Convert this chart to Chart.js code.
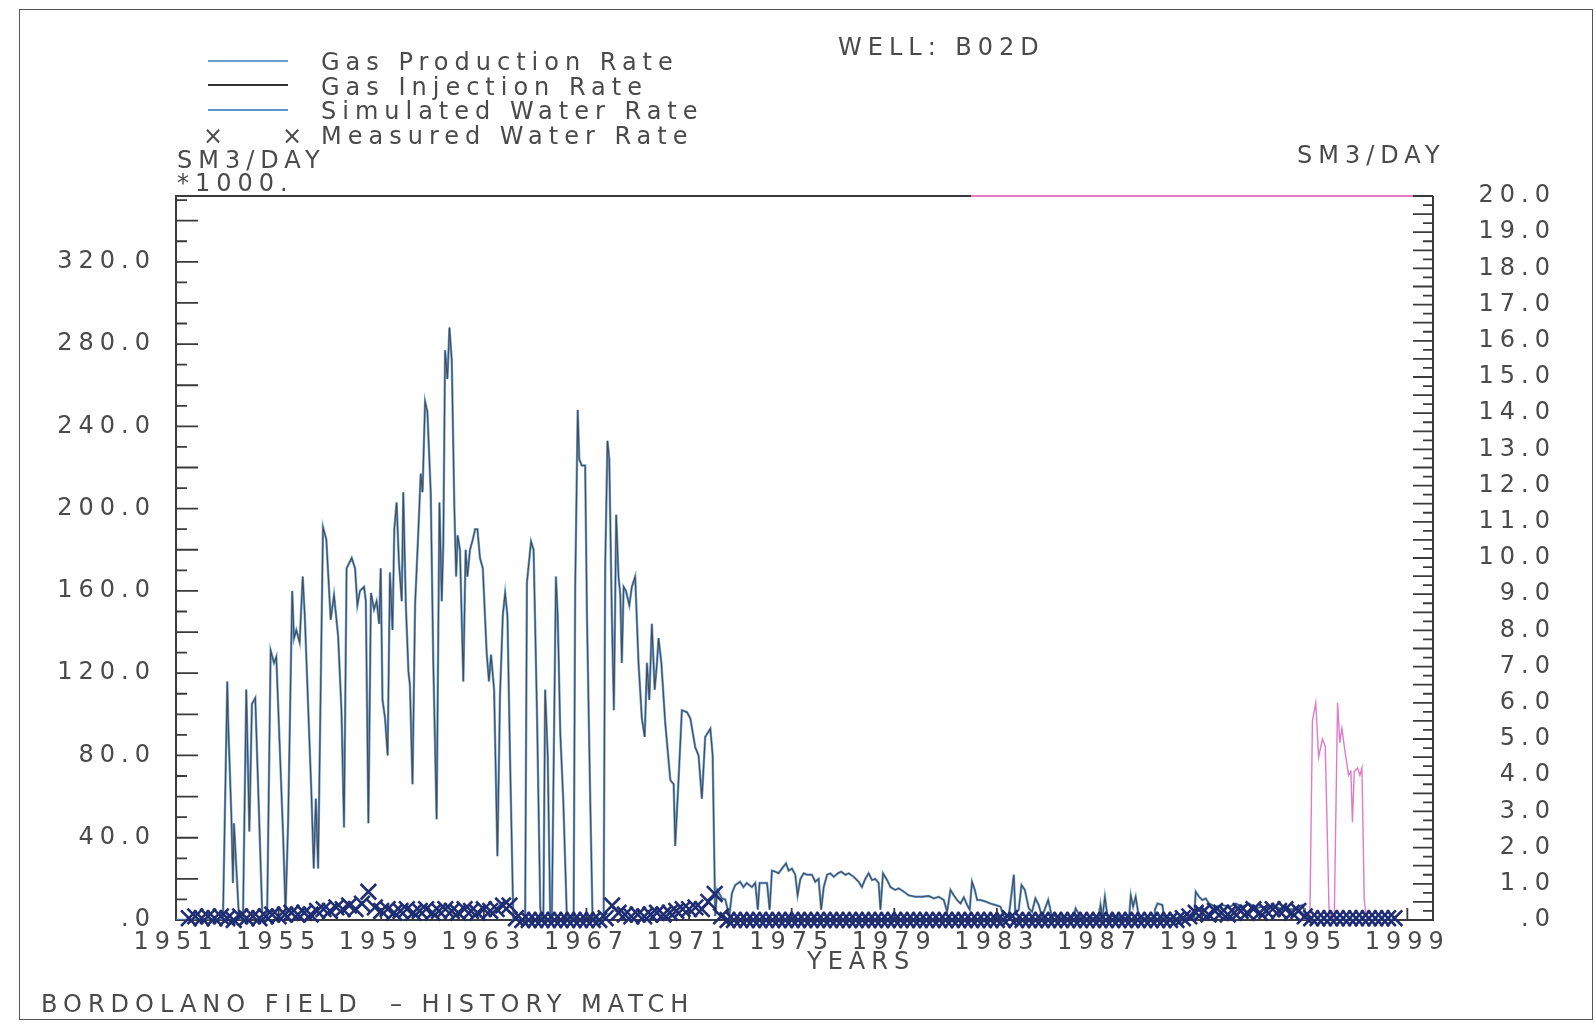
<!DOCTYPE html>
<html>
<head>
<meta charset="utf-8">
<script src="https://cdn.jsdelivr.net/npm/chart.js@4.4.1/dist/chart.umd.min.js"></script>
<style>
  html, body { margin: 0; padding: 0; background: #fff; overflow: hidden; }
  #page { position: relative; width: 1596px; height: 1028px; }
  #chart { position: absolute; left: 0; top: 0; }
  .txt {
    position: absolute; white-space: pre; line-height: 1;
    font-family: 'DejaVu Sans', sans-serif; font-weight: 400;
    font-size: 24px; letter-spacing: 6px; color: #4a4a4a;
    transform: translateY(-50%);
  }
  .frame { position: absolute; border: 1.5px solid #555; }
  .key { position: absolute; height: 2px; }
</style>
</head>
<body>
<div id="page">
  <div class="frame" style="left:19px; top:9px; width:1572px; height:1009px;"></div>
  <canvas id="chart" width="1596" height="1028"></canvas>

  <div class="key" style="left:208px; top:60px; width:80px; background:#6a9fd4;"></div>
  <div class="key" style="left:208px; top:84px; width:80px; background:#333;"></div>
  <div class="key" style="left:208px; top:109px; width:80px; background:#5b93cf;"></div>
  <div class="txt" style="left:203px; top:136px;">×</div>
  <div class="txt" style="left:282px; top:136px;">×</div>
  <div class="txt" style="left:321px; top:62px;">Gas Production Rate</div>
  <div class="txt" style="left:321px; top:87px;">Gas Injection Rate</div>
  <div class="txt" style="left:321px; top:111px;">Simulated Water Rate</div>
  <div class="txt" style="left:321px; top:136px;">Measured Water Rate</div>

  <div class="txt" style="left:838px; top:47px;">WELL: B02D</div>
  <div class="txt" style="left:177px; top:160px;">SM3/DAY</div>
  <div class="txt" style="left:177px; top:183px;">*1000.</div>
  <div class="txt" style="left:1297px; top:155px;">SM3/DAY</div>
  <div class="txt" style="left:807px; top:961px;">YEARS</div>
  <div class="txt" style="left:41px; top:1004px;">BORDOLANO FIELD  – HISTORY MATCH</div>
</div>

<script>
// x axis tick labels (years)
const yearTicks = [1951, 1955, 1959, 1963, 1967, 1971, 1975, 1979, 1983, 1987, 1991, 1995, 1999];
const leftTicks = [0, 40, 80, 120, 160, 200, 240, 280, 320];
const rightTicks = [0, 1, 2, 3, 4, 5, 6, 7, 8, 9, 10, 11, 12, 13, 14, 15, 16, 17, 18, 19, 20];

// gas rate, SM3/DAY *1000 (left axis)
const gasYears = [
  1951.0, 1952.83, 1953.0, 1953.03, 1953.16, 1953.22, 1953.26, 1953.46, 1953.61, 1953.74,
  1953.86, 1953.96, 1954.09, 1954.37, 1954.55, 1954.69, 1954.82, 1954.91, 1955.17, 1955.27,
  1955.37, 1955.53, 1955.6, 1955.69, 1955.82, 1955.94, 1956.02, 1956.28, 1956.37, 1956.45,
  1956.54, 1956.73, 1956.86, 1957.03, 1957.16, 1957.32, 1957.45, 1957.55, 1957.65, 1957.85,
  1957.98, 1958.07, 1958.17, 1958.33, 1958.4, 1958.5, 1958.6, 1958.72, 1958.82, 1958.92,
  1958.98, 1959.05, 1959.15, 1959.25, 1959.34, 1959.44, 1959.51, 1959.6, 1959.69, 1959.8,
  1959.86, 1959.96, 1960.06, 1960.12, 1960.22, 1960.32, 1960.45, 1960.54, 1960.61, 1960.71,
  1960.8, 1960.93, 1961.03, 1961.16, 1961.27, 1961.36, 1961.42, 1961.49, 1961.58, 1961.66,
  1961.75, 1961.85, 1961.92, 1961.98, 1962.07, 1962.2, 1962.29, 1962.36, 1962.46, 1962.57,
  1962.66, 1962.75, 1962.85, 1962.96, 1963.11, 1963.2, 1963.28, 1963.4, 1963.53, 1963.63,
  1963.74, 1963.83, 1963.92, 1964.02, 1964.15, 1964.61, 1964.68, 1964.84, 1964.94, 1965.07,
  1965.2, 1965.26, 1965.32, 1965.39, 1965.49, 1965.59, 1965.65, 1965.81, 1965.88, 1965.98,
  1966.1, 1966.24, 1966.5, 1966.56, 1966.66, 1966.72, 1966.82, 1966.95, 1967.02, 1967.15,
  1967.24, 1967.67, 1967.73, 1967.82, 1967.89, 1967.99, 1968.07, 1968.16, 1968.25, 1968.32,
  1968.38, 1968.45, 1968.54, 1968.67, 1968.77, 1968.9, 1969.03, 1969.16, 1969.27, 1969.36,
  1969.45, 1969.55, 1969.66, 1969.75, 1969.81, 1969.92, 1970.07, 1970.27, 1970.4, 1970.46,
  1970.59, 1970.72, 1970.92, 1971.05, 1971.24, 1971.37, 1971.5, 1971.63, 1971.83, 1971.92,
  1972.02, 1972.1, 1972.28, 1972.41, 1972.57, 1972.67, 1972.8, 1972.99, 1973.12, 1973.25,
  1973.45, 1973.58, 1973.68, 1973.75, 1973.9, 1974.04, 1974.14, 1974.23, 1974.36, 1974.49,
  1974.62, 1974.78, 1974.88, 1975.01, 1975.14, 1975.23, 1975.34, 1975.47, 1975.6, 1975.79,
  1975.92, 1976.05, 1976.15, 1976.25, 1976.38, 1976.51, 1976.64, 1976.8, 1976.93, 1977.09,
  1977.22, 1977.42, 1977.61, 1977.74, 1977.87, 1978.0, 1978.13, 1978.26, 1978.39, 1978.46,
  1978.56, 1978.72, 1978.85, 1979.04, 1979.17, 1979.37, 1979.56, 1979.82, 1980.08, 1980.34,
  1980.54, 1980.73, 1980.93, 1981.06, 1981.19, 1981.32, 1981.45, 1981.58, 1981.71, 1981.84,
  1981.94, 1982.03, 1982.14, 1982.23, 1982.36, 1982.55, 1982.75, 1982.94, 1983.14, 1983.27,
  1983.46, 1983.66, 1983.72, 1983.85, 1983.96, 1984.09, 1984.24, 1984.37, 1984.5, 1984.63,
  1984.76, 1985.0, 1985.13, 1985.41, 1985.81, 1986.0, 1986.07, 1986.27, 1986.98, 1987.04,
  1987.11, 1987.21, 1987.31, 1988.15, 1988.22, 1988.31, 1988.41, 1988.54, 1989.13, 1989.16,
  1989.26, 1989.45, 1989.52, 1990.69, 1990.75, 1990.88, 1991.01, 1991.14, 1991.27, 1991.53,
  1991.79, 1992.05, 1992.31, 1992.57, 1992.83, 1993.09, 1993.35, 1993.61, 1993.87, 1994.13,
  1994.39, 1994.65, 1994.91, 1995.04, 1995.17, 1995.3, 1998.5
];
const gasRates = [
  0, 0, 116, 98, 50, 18, 47, 0, 0, 112,
  43, 105, 108, 0, 0, 131, 125, 128, 43, 4,
  47, 160, 137, 141, 135, 167, 148, 61, 25, 59,
  25, 191, 185, 146, 158, 138, 102, 45, 171, 176,
  171, 153, 160, 162, 155, 47, 159, 151, 155, 144,
  171, 107, 98, 80, 169, 141, 190, 203, 174, 155,
  208, 153, 121, 114, 66, 153, 190, 217, 208, 252,
  247, 208, 125, 49, 203, 155, 183, 277, 263, 288,
  272, 201, 167, 187, 180, 116, 180, 167, 180, 185,
  190, 190, 176, 171, 130, 116, 129, 112, 31, 109,
  148, 159, 148, 80, 0, 0, 164, 184, 180, 102,
  6, 0, 0, 112, 80, 0, 0, 167, 148, 91,
  57, 0, 0, 160, 248, 224, 221, 221, 148, 57,
  0, 0, 171, 233, 224, 148, 102, 197, 167, 158,
  125, 162, 160, 153, 162, 167, 125, 98, 89, 125,
  107, 144, 112, 125, 137, 125, 96, 68, 66, 36,
  68, 102, 101, 98, 84, 80, 59, 89, 93, 80,
  2, 14.6, 10.5, 10, 2, 13, 17, 18.6, 16, 18,
  16, 18, 5, 18, 18, 18, 5, 24, 23.5, 22.7,
  25, 27.5, 24, 25, 22, 12, 20, 22.7, 22, 22,
  18.6, 20, 5, 16, 22, 22.7, 21, 22.7, 23.5, 22,
  22.7, 21, 18.6, 16, 20, 22.7, 19.4, 20, 18, 5,
  22.7, 19.4, 16, 14.6, 15.4, 13.8, 12, 11.3, 11.3, 11.7,
  10.5, 11.3, 9.7, 4, 14.6, 12, 9.7, 8, 11, 7.3,
  5, 18.6, 14.6, 9.7, 9.7, 9, 8, 7.3, 6.5, 1.6,
  1.6, 22, 3, 5, 17, 14.6, 5.7, 4, 10.5, 7.3,
  1.6, 9.7, 2.4, 1.6, 1, 2, 5.7, 1, 1, 7.3,
  1, 11.3, 2, 1, 12, 6.5, 11.3, 1, 1, 5,
  8, 7.3, 1, 1, 13.8, 11.3, 9.7, 10.5, 8, 6.5,
  7.3, 6.2, 8, 6.5, 8, 5.7, 6.5, 5.7, 6.5, 4.9,
  5, 5.7, 7.3, 2.4, 0.8, 0, 0
];

// simulated water rate, SM3/DAY (right axis)
const waterSimYears = [
  1994.8, 1995.2, 1995.3, 1995.43, 1995.54, 1995.69, 1995.8, 1995.95, 1996.15, 1996.28,
  1996.37, 1996.45, 1996.54, 1996.71, 1996.8, 1996.86, 1996.93, 1997.06, 1997.15, 1997.23,
  1997.32, 1997.42, 1998.5
];
const waterSimRates = [
  0, 0, 5.5, 6.0, 4.5, 5.0, 4.8, 0.2, 0, 6.0,
  4.9, 5.3, 4.8, 4.0, 4.1, 2.7, 4.1, 4.2, 4.0, 4.2,
  0.55, 0, 0
];

// measured water rate, SM3/DAY (right axis), quarterly from 1951.5
const measStart = 1951.5;
const measStep = 0.25;
const measRates = [
  0.05, 0.1,                 // 1951
  0.05, 0.1, 0.05, 0.1,      // 1952
  0.05, 0.0, 0.1, 0.05,      // 1953
  0.1, 0.05, 0.1, 0.15,      // 1954
  0.1, 0.15, 0.2, 0.15,      // 1955
  0.2, 0.15, 0.25, 0.3,      // 1956
  0.25, 0.35, 0.3, 0.4,      // 1957
  0.3, 0.45, 0.78, 0.35,     // 1958
  0.25, 0.3, 0.2, 0.25,      // 1959
  0.3, 0.2, 0.25, 0.3,       // 1960
  0.2, 0.25, 0.3, 0.25,      // 1961
  0.2, 0.3, 0.25, 0.2,       // 1962
  0.3, 0.25, 0.3, 0.4,       // 1963
  0.4, 0.05, 0, 0,           // 1964
  0, 0, 0, 0,                // 1965
  0, 0, 0, 0,                // 1966
  0, 0, 0, 0.05,             // 1967
  0.4, 0.2, 0.15, 0.1,       // 1968
  0.15, 0.1, 0.15, 0.2,      // 1969
  0.15, 0.2, 0.25, 0.3,      // 1970
  0.3, 0.35, 0.3, 0.5,       // 1971
  0.72, 0.1, 0, 0,           // 1972
  0, 0, 0, 0,                // 1973
  0, 0, 0, 0,                // 1974
  0, 0, 0, 0,                // 1975
  0, 0, 0, 0,                // 1976
  0, 0, 0, 0,                // 1977
  0, 0, 0, 0,                // 1978
  0, 0, 0, 0,                // 1979
  0, 0, 0, 0,                // 1980
  0, 0, 0, 0,                // 1981
  0, 0, 0, 0,                // 1982
  0, 0, 0.05, 0,             // 1983
  0, 0, 0, 0,                // 1984
  0, 0, 0, 0,                // 1985
  0, 0, 0, 0,                // 1986
  0, 0, 0, 0,                // 1987
  0, 0, 0, 0,                // 1988
  0, 0, 0, 0,                // 1989
  0, 0.05, 0.1, 0.2,         // 1990
  0.2, 0.15, 0.25, 0.2,      // 1991
  0.15, 0.2, 0.25, 0.2,      // 1992
  0.3, 0.2, 0.25, 0.3,       // 1993
  0.25, 0.3, 0.2, 0.25,      // 1994
  0.1, 0.05, 0.05, 0.05,     // 1995
  0.05, 0.05, 0.05, 0.05,    // 1996
  0.05, 0.05, 0.05, 0.05,    // 1997
  0.05, 0.05, 0.05           // 1998
];

// top border turns pink from here on
const pinkFrameStart = 1982;

const ink = '#4a4a4a';
const pink = '#e27ac8';

const gasPoints = gasYears.map((x, i) => ({ x, y: gasRates[i] }));
const waterSimPoints = waterSimYears.map((x, i) => ({ x, y: waterSimRates[i] }));
const measPoints = measRates.map((y, i) => ({ x: measStart + i * measStep, y }));

const fmt = v => v === 0 ? '.0' : v.toFixed(1);

const axisPlugin = {
  id: 'plotterAxes',
  beforeDraw(chart) {
    chart.ctx.letterSpacing = '6px';
  },
  beforeDatasetsDraw(chart) {
    const { ctx, chartArea: a, scales } = chart;
    const line = (x1, y1, x2, y2) => { ctx.moveTo(x1, y1); ctx.lineTo(x2, y2); };
    ctx.save();
    ctx.lineWidth = 2;
    ctx.strokeStyle = '#3a3a3a';
    const px = scales.x.getPixelForValue(pinkFrameStart);
    ctx.beginPath();
    ctx.moveTo(px, a.top);
    ctx.lineTo(a.left, a.top);
    ctx.lineTo(a.left, a.bottom);
    ctx.lineTo(a.right, a.bottom);
    ctx.lineTo(a.right, a.top);
    ctx.stroke();
    ctx.strokeStyle = pink;
    ctx.beginPath();
    line(px, a.top, a.right, a.top);
    ctx.stroke();

    ctx.strokeStyle = '#3a3a3a';
    ctx.lineWidth = 1.8;
    ctx.beginPath();
    for (let v = 0; v <= scales.y.max; v += 10) {
      const y = scales.y.getPixelForValue(v);
      line(a.left, y, a.left + (v % 20 === 0 ? 22 : 11), y);
    }
    for (let k = 0; k <= 80; k++) {
      const y = scales.y2.getPixelForValue(k / 4);
      line(a.right - (k % 2 === 0 ? 20 : 10), y, a.right, y);
    }
    yearTicks.forEach(t => {
      const x = scales.x.getPixelForValue(t);
      line(x, a.bottom, x, a.bottom - 12);
    });
    ctx.stroke();
    ctx.restore();
  }
};

Chart.defaults.font.family = "'DejaVu Sans', sans-serif";
Chart.defaults.font.size = 24;
Chart.defaults.font.weight = '400';
Chart.defaults.color = ink;

new Chart(document.getElementById('chart'), {
  type: 'line',
  data: {
    datasets: [
      {
        label: 'Measured Water Rate',
        data: measPoints,
        yAxisID: 'y2',
        showLine: false,
        pointStyle: 'crossRot',
        pointRadius: 11,
        pointBorderWidth: 2.6,
        borderColor: '#1f2d73',
        backgroundColor: '#1f2d73',
        clip: false,
        order: 0
      },
      {
        label: 'Gas Injection Rate',
        data: gasPoints,
        yAxisID: 'y',
        borderColor: '#474a52',
        borderWidth: 1.1,
        pointRadius: 0,
        tension: 0,
        order: 1
      },
      {
        label: 'Gas Production Rate',
        data: gasPoints,
        yAxisID: 'y',
        borderColor: '#6aa3da',
        borderWidth: 2.4,
        pointRadius: 0,
        tension: 0,
        order: 2
      },
      {
        label: 'Simulated Water Rate',
        data: waterSimPoints,
        yAxisID: 'y2',
        borderColor: pink,
        borderWidth: 1.4,
        pointRadius: 0,
        tension: 0,
        order: 3
      }
    ]
  },
  options: {
    responsive: false,
    animation: false,
    layout: { padding: { top: 196, left: 0, right: 40, bottom: 0 } },
    plugins: {
      legend: { display: false },
      tooltip: { enabled: false }
    },
    scales: {
      x: {
        type: 'linear',
        min: 1951,
        max: 2000,
        grid: { display: false },
        border: { display: false },
        afterBuildTicks: s => { s.ticks = yearTicks.map(v => ({ value: v })); },
        afterFit: s => { s.height = 108; },
        ticks: { padding: 0, maxRotation: 0, autoSkip: false, callback: v => String(v) }
      },
      y: {
        position: 'left',
        min: 0,
        max: 352,
        grid: { display: false },
        border: { display: false },
        afterBuildTicks: s => { s.ticks = leftTicks.map(v => ({ value: v })); },
        afterFit: s => { s.width = 176; },
        ticks: { padding: 12, callback: v => fmt(v) }
      },
      y2: {
        position: 'right',
        min: 0,
        max: 20,
        grid: { display: false },
        border: { display: false },
        afterBuildTicks: s => { s.ticks = rightTicks.map(v => ({ value: v })); },
        afterFit: s => { s.width = 123; },
        ticks: { padding: 12, crossAlign: 'far', callback: v => fmt(v) }
      }
    }
  },
  plugins: [axisPlugin]
});
</script>
</body>
</html>
